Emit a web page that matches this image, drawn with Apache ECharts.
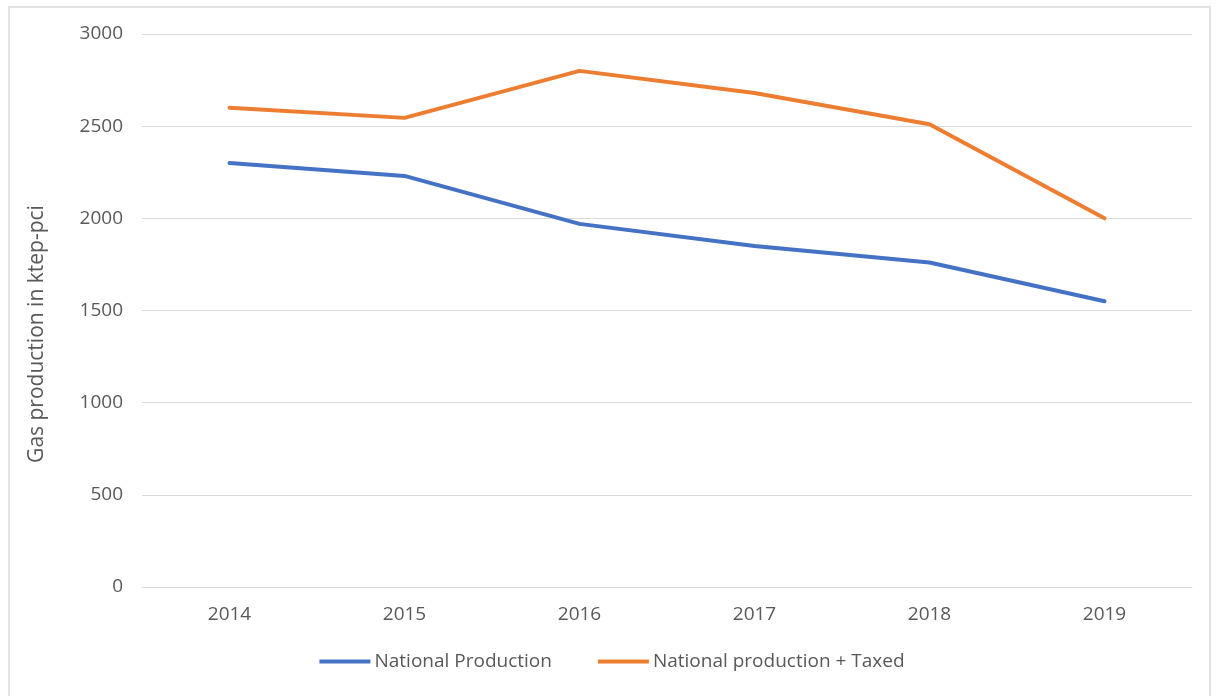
<!DOCTYPE html>
<html>
<head>
<meta charset="utf-8">
<script src="https://cdn.jsdelivr.net/npm/echarts@6/dist/echarts.min.js"></script>
<style>
html,body{margin:0;padding:0;background:#fff;}
#chart{width:1224px;height:696px;}
</style>
</head>
<body>
<div id="chart"></div>
<script>
const categories = ['2014', '2015', '2016', '2017', '2018', '2019'];
const nationalProduction = [2300, 2230, 1970, 1850, 1760, 1550];
const nationalPlusTaxed = [2600, 2545, 2800, 2680, 2510, 2000];
const seriesNames = ['National Production', 'National production + Taxed'];
const yAxisTitle = 'Gas production in ktep-pci';

const chart = echarts.init(document.getElementById('chart'));
const font = '"Open Sans", "Noto Sans", sans-serif';
chart.setOption({
  animation: false,
  backgroundColor: '#fff',
  graphic: [{
    type: 'rect',
    shape: { x: 9, y: 7, width: 1201, height: 700 },
    style: { fill: 'none', stroke: '#e3e3e3', lineWidth: 2 },
    silent: true
  }, {
    type: 'text',
    x: 37,
    y: 334,
    rotation: Math.PI / 2,
    style: {
      text: yAxisTitle,
      fill: '#595959',
      fontSize: 21,
      fontFamily: font,
      align: 'center',
      verticalAlign: 'middle'
    },
    silent: true
  }],
  grid: { left: 142, right: 32, top: 34, bottom: 109 },
  legend: {
    bottom: 20,
    left: 'center',
    itemWidth: 51,
    itemHeight: 4,
    itemGap: 46,
    icon: 'rect',
    textStyle: { color: '#595959', fontSize: 19, fontFamily: font, padding: [0, 0, 0, -1] },
    data: seriesNames
  },
  xAxis: {
    type: 'category',
    data: categories,
    boundaryGap: true,
    axisLine: { show: true, lineStyle: { color: '#d9d9d9', width: 1 } },
    axisTick: { show: false },
    axisLabel: { color: '#595959', fontSize: 19, fontFamily: font, margin: 18 }
  },
  yAxis: {
    type: 'value',
    min: 0,
    max: 3000,
    interval: 500,
    axisLine: { show: false },
    axisTick: { show: false },
    axisLabel: {
      color: '#595959', fontSize: 19, fontFamily: font, margin: 19,
      formatter: function (v) { return String(v); }
    },
    splitLine: { lineStyle: { color: '#d9d9d9', width: 1 } }
  },
  series: [
    {
      name: seriesNames[0],
      type: 'line',
      data: nationalProduction,
      symbol: 'none',
      lineStyle: { color: '#4472c4', width: 4, cap: 'round', join: 'round' },
      itemStyle: { color: '#4472c4' }
    },
    {
      name: seriesNames[1],
      type: 'line',
      data: nationalPlusTaxed,
      symbol: 'none',
      lineStyle: { color: '#ed7d31', width: 4, cap: 'round', join: 'round' },
      itemStyle: { color: '#ed7d31' }
    }
  ]
});
</script>
</body>
</html>
